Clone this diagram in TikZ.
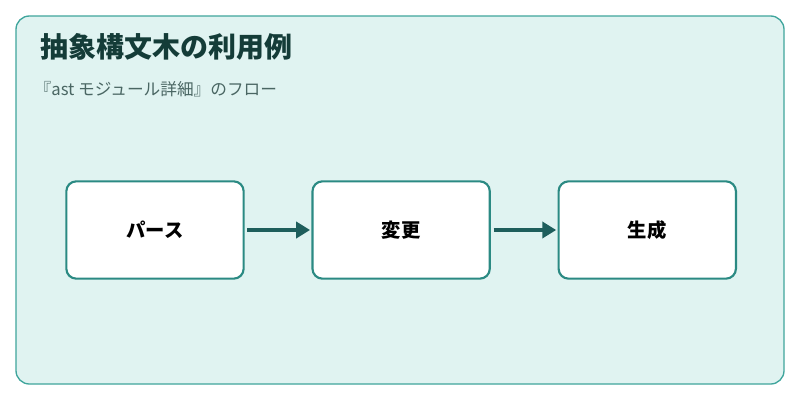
\documentclass[tikz,border=0pt]{standalone}
\usepackage{fontspec}
\setmainfont{Noto Sans CJK JP}
\usetikzlibrary{arrows.meta,positioning}
\definecolor{panelfill}{HTML}{E0F3F1}
\definecolor{paneldraw}{HTML}{3FA59C}
\definecolor{boxdraw}{HTML}{2B8A83}
\definecolor{arrowcol}{HTML}{1E5E5C}
\definecolor{titlecol}{HTML}{143C38}
\definecolor{subcol}{HTML}{4A6663}
\begin{document}
\begin{tikzpicture}[x=0.75pt,y=-0.75pt,>=Triangle,
    stage/.style={draw=boxdraw,line width=1.6pt,fill=white,rounded corners=7.5pt,
      minimum width=133pt,minimum height=73pt,font=\fontsize{14.5}{17}\selectfont\bfseries},
    flow/.style={->,draw=arrowcol,line width=2.6pt,shorten >=1pt,shorten <=2pt}]
  \useasboundingbox (0,0) rectangle (800,400);
  \fill[white] (0,0) rectangle (800,400);
  \draw[draw=paneldraw,fill=panelfill,line width=1pt,rounded corners=10pt] (16,16) rectangle (784,384);
  \node[anchor=west,text=titlecol,font=\fontsize{21}{24}\selectfont\bfseries] (title) at (36,47) {抽象構文木の利用例};
  \node[anchor=west,text=subcol,font=\fontsize{12.5}{15}\selectfont] (sub) at (30,89) {『ast モジュール詳細』のフロー};
  \node[stage] (parse) at (155,230) {パース};
  \node[stage,right=50pt of parse] (change) {変更};
  \node[stage,right=50pt of change] (gen) {生成};
  \draw[flow] (parse) -- (change);
  \draw[flow] (change) -- (gen);
\end{tikzpicture}
\end{document}
